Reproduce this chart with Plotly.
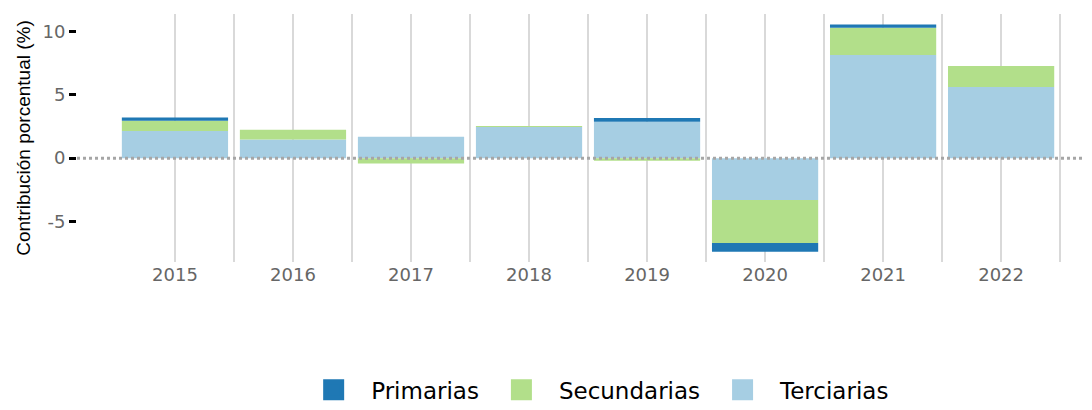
import plotly.graph_objects as go

# data
years = ["2015", "2016", "2017", "2018", "2019", "2020", "2021", "2022"]
terciarias = [2.15, 1.47, 1.68, 2.46, 2.87, -3.3, 8.15, 5.62]
secundarias = [0.8, 0.77, -0.42, 0.02, -0.2, -3.4, 2.15, 1.66]
primarias = [0.25, 0.0, 0.0, 0.0, 0.3, -0.7, 0.25, 0.0]

names = ["Terciarias", "Secundarias", "Primarias"]
colors = ["#a6cee3", "#b2df8a", "#1f78b4"]
series = [terciarias, secundarias, primarias]

xpos = list(range(len(years)))

fig = go.Figure()
# order of stacking: terciarias next to zero, then secundarias, then primarias
for name, col, vals in zip(names, colors, series):
    fig.add_trace(go.Bar(name=name, x=xpos, y=vals, marker_color=col,
                         marker_line_width=0, width=0.9, showlegend=False))

# legend entries with larger square keys
for rank, (name, col) in enumerate(zip(names, colors)):
    fig.add_trace(go.Scatter(name=name, x=[None], y=[None], mode="markers",
                             marker=dict(symbol="square", size=16, color=col,
                                         line=dict(color=col, width=5)),
                             legendrank=3 - rank))

# dotted reference line at zero
fig.add_shape(type="line", xref="paper", x0=0, x1=1, yref="y", y0=0, y1=0,
              line=dict(color="#a6a6a6", width=3, dash="dot"), layer="above")

tick_font = dict(family="DejaVu Sans, sans-serif", size=18, color="#666666")

# page body has an 8px margin, so the figure is 8px smaller than the window
fig.update_layout(
    width=1084, height=402,
    barmode="relative",
    bargap=0.1,
    plot_bgcolor="white",
    paper_bgcolor="white",
    margin=dict(l=69, r=0, t=6, b=148, autoexpand=False),
    xaxis=dict(
        range=[-0.83, 7.77],
        tickvals=xpos,
        ticktext=years,
        showgrid=True,
        gridcolor="#d9d9d9",
        gridwidth=1.5,
        minor=dict(tickvals=[i + 0.5 for i in xpos], showgrid=True,
                   gridcolor="#d9d9d9", gridwidth=1.5),
        zeroline=False,
        showline=False,
        ticks="",
        tickfont=tick_font,
        automargin=False,
    ),
    yaxis=dict(
        range=[-8.2, 11.38],
        tickvals=[-5, 0, 5, 10],
        ticktext=["-5", "0", "5", "10"],
        showgrid=False,
        zeroline=False,
        showline=False,
        ticks="outside",
        ticklen=7,
        tickwidth=2.5,
        tickcolor="black",
        tickfont=tick_font,
        automargin=False,
        title=dict(text="Contribución porcentual (%)",
                   font=dict(family="Liberation Sans, Arial, sans-serif",
                             size=19, color="black"),
                   standoff=6),
    ),
    legend=dict(
        orientation="h",
        xref="paper", x=0.511, xanchor="center",
        yref="container", y=0.05, yanchor="middle",
        font=dict(family="DejaVu Sans, sans-serif", size=23, color="black"),
        itemwidth=65,
        itemsizing="trace",
        tracegroupgap=0,
    ),
    showlegend=True,
)

fig.write_html("out.html")
